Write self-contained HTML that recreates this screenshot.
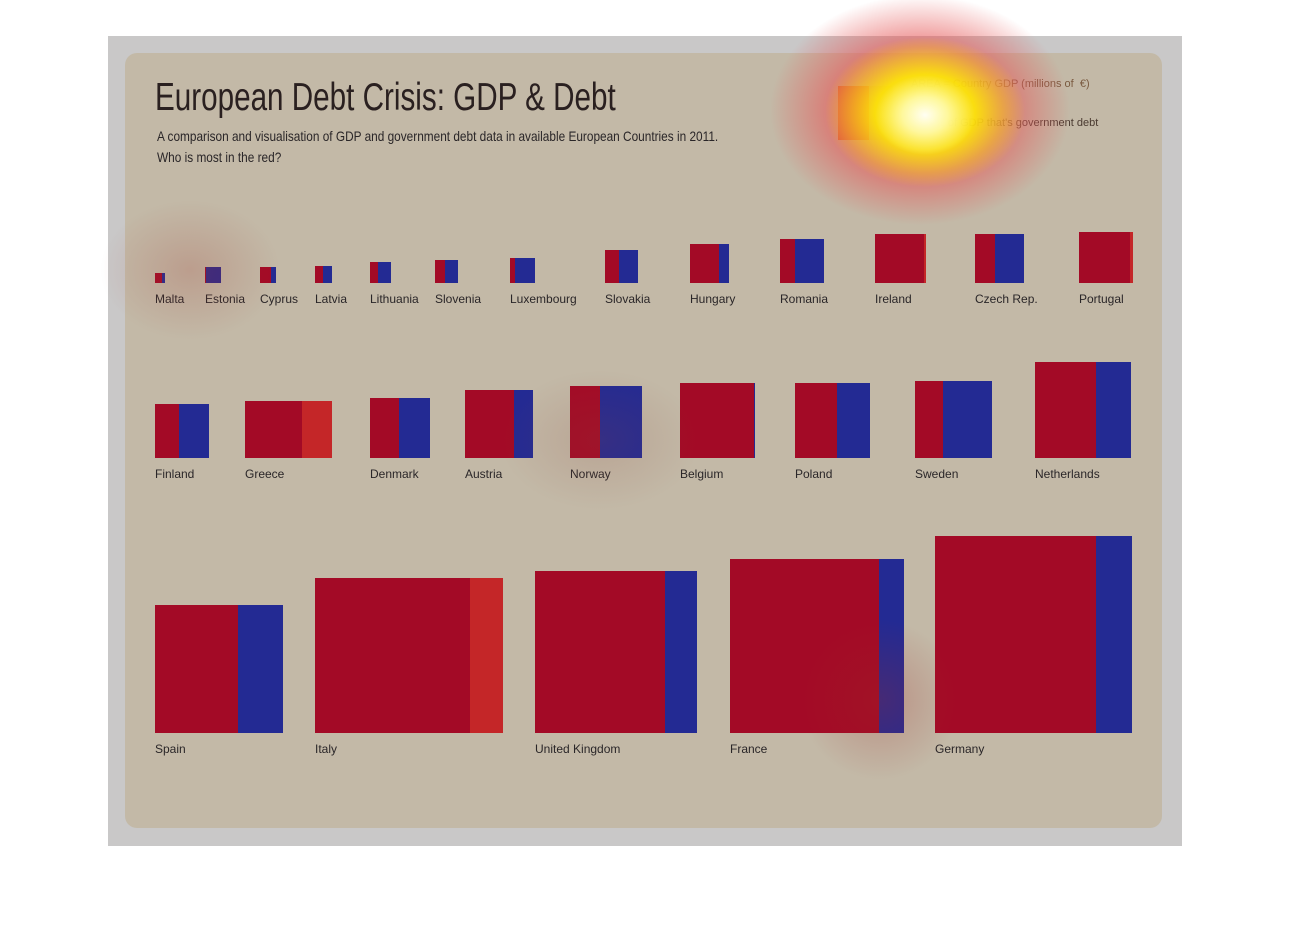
<!DOCTYPE html>
<html><head><meta charset="utf-8"><style>
*{margin:0;padding:0}
body{width:1290px;height:940px;background:#fff;position:relative;overflow:hidden;font-family:"Liberation Sans",sans-serif}
.abs{position:absolute}
#outer{left:108px;top:36px;width:1074px;height:810px;background:#c9c8c8}
#panel{left:125px;top:53px;width:1037px;height:775px;background:#c3b9a7;border-radius:12px}
.b{position:absolute;display:flex}
.b i{display:block;height:100%}
.r{background:#a30a26}
.u{background:#232a93}
.o{background:#c42628}
.l{position:absolute;font-size:12px;color:#2a2628}
#title{left:155px;top:76px;font-size:39px;color:#2a2020;white-space:nowrap;transform-origin:0 0;transform:scaleX(0.76)}
#sub{left:157px;top:126px;font-size:14px;line-height:21px;color:#2a2628;white-space:nowrap;transform-origin:0 0;transform:scaleX(0.845)}
#heat{left:0;top:0;width:1290px;height:940px;pointer-events:none;
background:
radial-gradient(ellipse 50px 40px at 925px 115px,rgba(255,255,255,0.95) 0%,rgba(255,255,220,0.7) 45%,rgba(255,255,0,0) 100%),
radial-gradient(ellipse 100px 75px at 925px 112px,rgba(255,245,0,0.95) 0%,rgba(255,240,0,0.85) 50%,rgba(255,200,0,0) 100%),
radial-gradient(ellipse 150px 115px at 920px 110px,rgba(240,90,70,0.75) 0%,rgba(230,90,90,0.7) 55%,rgba(200,100,100,0) 100%),
radial-gradient(ellipse 90px 70px at 190px 270px,rgba(160,60,50,0.22),rgba(160,60,50,0) 100%),
radial-gradient(ellipse 80px 80px at 880px 700px,rgba(160,40,40,0.28),rgba(160,40,40,0) 100%),
radial-gradient(ellipse 100px 70px at 600px 440px,rgba(140,70,60,0.18),rgba(140,70,60,0) 100%);}
</style></head><body>
<div id="outer" class="abs"></div>
<div id="panel" class="abs"></div>
<div id="title" class="abs">European Debt Crisis: GDP &amp; Debt</div>
<div id="sub" class="abs">A comparison and visualisation of GDP and government debt data in available European Countries in 2011.<br>Who is most in the red?</div>

<div class="b" style="left:838px;top:86px;width:55px;height:54px"><i style="width:31px;background:#d65a1a"></i><i style="width:24px;background:#b8b46a"></i></div>
<div class="l" style="left:911px;top:78px;font-size:11px;color:#7a5a40">AREA = Country GDP (millions of &nbsp;€)</div>
<div class="l" style="left:911px;top:90px;font-size:11px;color:#b0a060">&amp; blue</div>
<div class="l" style="left:935px;top:117px;font-size:11px;color:#4a3a30">% of GDP that's government debt</div>

<div class="b" style="left:155px;top:273px;width:10px;height:10px"><i class="r" style="width:7px"></i><i class="u" style="flex:1"></i></div>
<div class="b" style="left:205px;top:267px;width:16px;height:16px"><i class="r" style="width:1px"></i><i class="u" style="flex:1;background:#2f2888"></i></div>
<div class="b" style="left:260px;top:267px;width:16px;height:16px"><i class="r" style="width:11px"></i><i class="u" style="flex:1"></i></div>
<div class="b" style="left:315px;top:266px;width:17px;height:17px"><i class="r" style="width:8px"></i><i class="u" style="flex:1"></i></div>
<div class="b" style="left:370px;top:262px;width:21px;height:21px"><i class="r" style="width:8px"></i><i class="u" style="flex:1"></i></div>
<div class="b" style="left:435px;top:260px;width:23px;height:23px"><i class="r" style="width:10px"></i><i class="u" style="flex:1"></i></div>
<div class="b" style="left:510px;top:258px;width:25px;height:25px"><i class="r" style="width:5px"></i><i class="u" style="flex:1"></i></div>
<div class="b" style="left:605px;top:250px;width:33px;height:33px"><i class="r" style="width:14px"></i><i class="u" style="flex:1"></i></div>
<div class="b" style="left:690px;top:244px;width:39px;height:39px"><i class="r" style="width:29px"></i><i class="u" style="flex:1"></i></div>
<div class="b" style="left:780px;top:239px;width:44px;height:44px"><i class="r" style="width:15px"></i><i class="u" style="flex:1"></i></div>
<div class="b" style="left:875px;top:234px;width:51px;height:49px"><i class="r" style="width:49px"></i><i class="o" style="flex:1"></i></div>
<div class="b" style="left:975px;top:234px;width:49px;height:49px"><i class="r" style="width:20px"></i><i class="u" style="flex:1"></i></div>
<div class="b" style="left:1079px;top:232px;width:54px;height:51px"><i class="r" style="width:51px"></i><i class="o" style="flex:1"></i></div>
<div class="l" style="left:155px;top:292px">Malta</div>
<div class="l" style="left:205px;top:292px">Estonia</div>
<div class="l" style="left:260px;top:292px">Cyprus</div>
<div class="l" style="left:315px;top:292px">Latvia</div>
<div class="l" style="left:370px;top:292px">Lithuania</div>
<div class="l" style="left:435px;top:292px">Slovenia</div>
<div class="l" style="left:510px;top:292px">Luxembourg</div>
<div class="l" style="left:605px;top:292px">Slovakia</div>
<div class="l" style="left:690px;top:292px">Hungary</div>
<div class="l" style="left:780px;top:292px">Romania</div>
<div class="l" style="left:875px;top:292px">Ireland</div>
<div class="l" style="left:975px;top:292px">Czech Rep.</div>
<div class="l" style="left:1079px;top:292px">Portugal</div>

<div class="b" style="left:155px;top:404px;width:54px;height:54px"><i class="r" style="width:24px"></i><i class="u" style="flex:1"></i></div>
<div class="b" style="left:245px;top:401px;width:87px;height:57px"><i class="r" style="width:57px"></i><i class="o" style="flex:1"></i></div>
<div class="b" style="left:370px;top:398px;width:60px;height:60px"><i class="r" style="width:29px"></i><i class="u" style="flex:1"></i></div>
<div class="b" style="left:465px;top:390px;width:68px;height:68px"><i class="r" style="width:49px"></i><i class="u" style="flex:1"></i></div>
<div class="b" style="left:570px;top:386px;width:72px;height:72px"><i class="r" style="width:30px"></i><i class="u" style="flex:1"></i></div>
<div class="b" style="left:680px;top:383px;width:75px;height:75px"><i class="r" style="width:74px"></i><i class="u" style="flex:1"></i></div>
<div class="b" style="left:795px;top:383px;width:75px;height:75px"><i class="r" style="width:42px"></i><i class="u" style="flex:1"></i></div>
<div class="b" style="left:915px;top:381px;width:77px;height:77px"><i class="r" style="width:28px"></i><i class="u" style="flex:1"></i></div>
<div class="b" style="left:1035px;top:362px;width:96px;height:96px"><i class="r" style="width:61px"></i><i class="u" style="flex:1"></i></div>
<div class="l" style="left:155px;top:467px">Finland</div>
<div class="l" style="left:245px;top:467px">Greece</div>
<div class="l" style="left:370px;top:467px">Denmark</div>
<div class="l" style="left:465px;top:467px">Austria</div>
<div class="l" style="left:570px;top:467px">Norway</div>
<div class="l" style="left:680px;top:467px">Belgium</div>
<div class="l" style="left:795px;top:467px">Poland</div>
<div class="l" style="left:915px;top:467px">Sweden</div>
<div class="l" style="left:1035px;top:467px">Netherlands</div>

<div class="b" style="left:155px;top:605px;width:128px;height:128px"><i class="r" style="width:83px"></i><i class="u" style="flex:1"></i></div>
<div class="b" style="left:315px;top:578px;width:188px;height:155px"><i class="r" style="width:155px"></i><i class="o" style="flex:1"></i></div>
<div class="b" style="left:535px;top:571px;width:162px;height:162px"><i class="r" style="width:130px"></i><i class="u" style="flex:1"></i></div>
<div class="b" style="left:730px;top:559px;width:174px;height:174px"><i class="r" style="width:149px"></i><i class="u" style="flex:1"></i></div>
<div class="b" style="left:935px;top:536px;width:197px;height:197px"><i class="r" style="width:161px"></i><i class="u" style="flex:1"></i></div>
<div class="l" style="left:155px;top:742px">Spain</div>
<div class="l" style="left:315px;top:742px">Italy</div>
<div class="l" style="left:535px;top:742px">United Kingdom</div>
<div class="l" style="left:730px;top:742px">France</div>
<div class="l" style="left:935px;top:742px">Germany</div>

<div id="heat" class="abs"></div>
</body></html>
